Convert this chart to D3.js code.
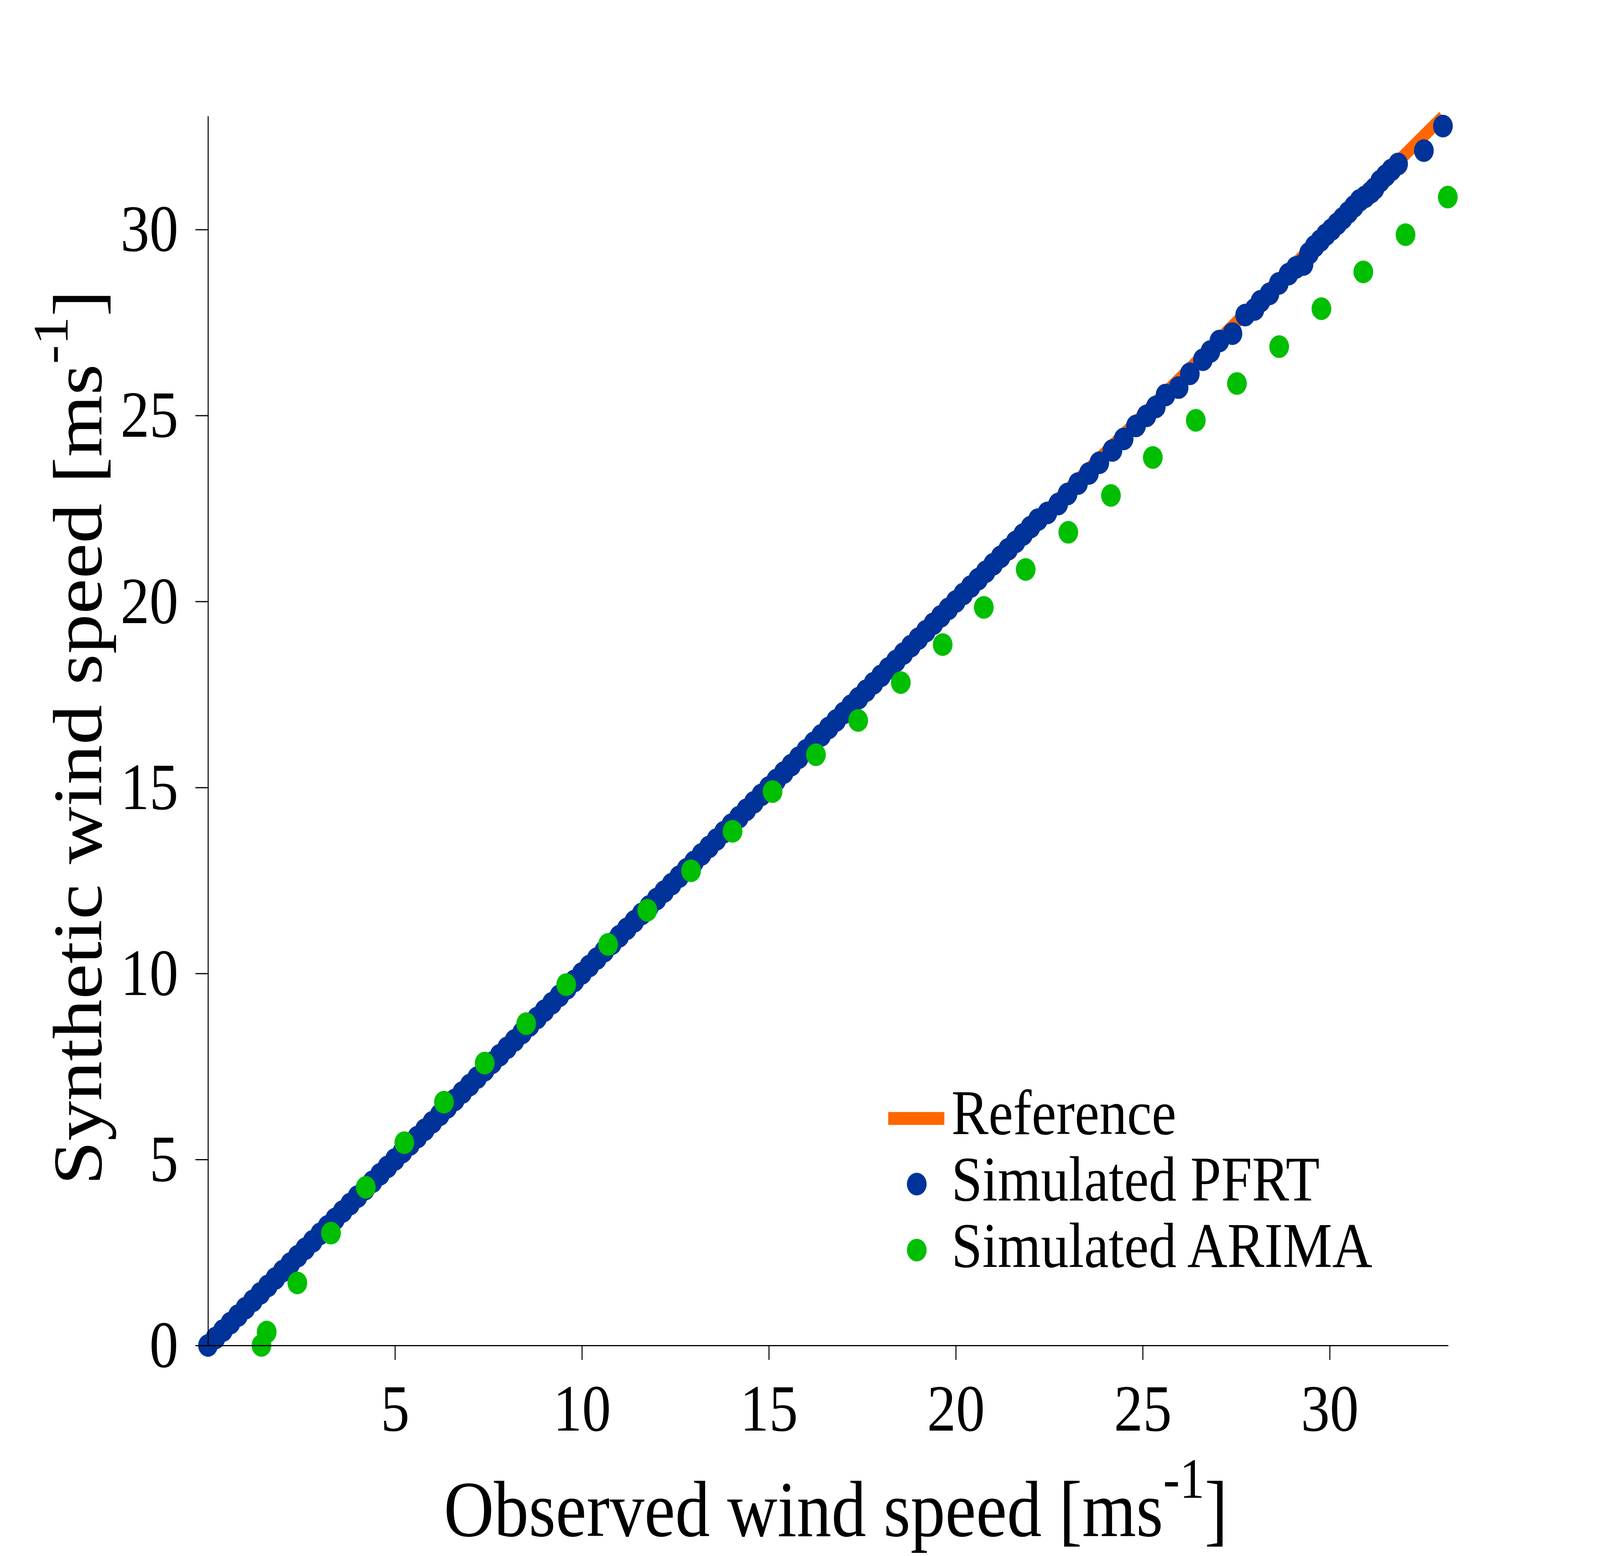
<!DOCTYPE html>
<html>
<head>
<meta charset="utf-8">
<script src="https://cdn.jsdelivr.net/npm/d3@7"></script>
<style>
  html, body { margin: 0; padding: 0; background: #fff; overflow: hidden; }
  svg { display: block; }
  text { font-family: "Liberation Serif", "Times New Roman", serif; fill: #000; }
</style>
</head>
<body>
<div id="chart"></div>
<script>
// Q-Q data: observed quantiles vs synthetic quantiles [m/s]
const pfrtObserved = [
  0.0, 0.2, 0.4, 0.6, 0.8, 1.0, 1.2, 1.4, 1.6, 1.8, 2.0, 2.2, 2.4, 2.6, 2.8,
  3.0, 3.2, 3.4, 3.6, 3.8, 4.0, 4.2, 4.4, 4.6, 4.8, 5.0, 5.2, 5.4, 5.6, 5.8,
  6.0, 6.2, 6.4, 6.6, 6.8, 7.0, 7.2, 7.4, 7.6, 7.8, 8.0, 8.2, 8.4, 8.6, 8.8,
  9.0, 9.2, 9.4, 9.6, 9.8, 10.0, 10.2, 10.4, 10.6, 10.8, 11.0, 11.2, 11.4, 11.6, 11.8,
  12.0, 12.2, 12.4, 12.6, 12.8, 13.0, 13.2, 13.4, 13.6, 13.8, 14.0, 14.2, 14.4, 14.6, 14.8,
  15.0, 15.2, 15.4, 15.6, 15.8, 16.0, 16.2, 16.4, 16.6, 16.8, 17.0, 17.2, 17.4, 17.6, 17.8,
  18.0, 18.2, 18.4, 18.6, 18.8, 19.0, 19.2, 19.4, 19.6, 19.8, 20.0, 20.2, 20.4, 20.6, 20.8,
  21.0, 21.2, 21.4, 21.6, 21.8, 22.0, 22.2, 22.45, 22.74, 22.99, 23.27, 23.56, 23.84,
  24.19, 24.49, 24.82, 25.1, 25.35, 25.61, 25.96, 26.26, 26.61, 26.81, 27.05, 27.4,
  27.74, 27.99, 28.15, 28.39, 28.64, 28.9, 29.1, 29.3, 29.45, 29.6, 29.75, 29.9, 30.05,
  30.2, 30.35, 30.5, 30.65, 30.8, 30.95, 31.1, 31.2, 31.35, 31.5, 31.65, 31.83, 32.52, 33.03
];
const pfrtSynthetic = [
  0.0, 0.2, 0.4, 0.6, 0.8, 1.0, 1.2, 1.4, 1.6, 1.8, 2.0, 2.2, 2.4, 2.6, 2.8,
  3.0, 3.2, 3.4, 3.6, 3.8, 4.0, 4.2, 4.4, 4.6, 4.8, 5.0, 5.2, 5.4, 5.6, 5.8,
  6.0, 6.2, 6.4, 6.6, 6.8, 7.0, 7.2, 7.4, 7.6, 7.8, 8.0, 8.2, 8.4, 8.6, 8.8,
  9.0, 9.2, 9.4, 9.6, 9.8, 10.0, 10.2, 10.4, 10.6, 10.8, 11.0, 11.2, 11.4, 11.6, 11.8,
  12.0, 12.2, 12.4, 12.6, 12.8, 13.0, 13.2, 13.4, 13.6, 13.8, 14.0, 14.2, 14.4, 14.6, 14.8,
  15.0, 15.2, 15.4, 15.6, 15.8, 16.0, 16.2, 16.4, 16.6, 16.8, 17.0, 17.2, 17.4, 17.6, 17.8,
  18.0, 18.2, 18.4, 18.6, 18.8, 19.0, 19.2, 19.4, 19.6, 19.8, 20.0, 20.2, 20.4, 20.6, 20.8,
  21.0, 21.2, 21.4, 21.6, 21.8, 22.0, 22.2, 22.38, 22.62, 22.89, 23.17, 23.44, 23.73,
  24.06, 24.37, 24.72, 24.99, 25.23, 25.55, 25.75, 26.12, 26.5, 26.72, 27.0, 27.2,
  27.7, 27.85, 28.07, 28.27, 28.55, 28.8, 28.98, 29.06, 29.36, 29.55, 29.7, 29.86, 30.0,
  30.15, 30.3, 30.46, 30.62, 30.78, 30.88, 31.0, 31.1, 31.3, 31.45, 31.6, 31.76, 32.12, 32.78
];
const arimaObserved = [
  1.43, 1.57, 2.39, 3.29, 4.22, 5.25, 6.31, 7.4, 8.51, 9.58, 10.7, 11.75, 12.92, 14.03,
  15.1, 16.26, 17.39, 18.53, 19.65, 20.75, 21.87, 23.01, 24.15, 25.27, 26.42, 27.52,
  28.65, 29.78, 30.9, 32.03, 33.16
];
const arimaSynthetic = [
  0.0, 0.36, 1.68, 3.02, 4.25, 5.45, 6.54, 7.59, 8.65, 9.7, 10.78, 11.7, 12.76, 13.82,
  14.89, 15.88, 16.8, 17.82, 18.84, 19.84, 20.86, 21.86, 22.85, 23.87, 24.87, 25.86,
  26.85, 27.87, 28.86, 29.86, 30.87
];
const referenceLine = [0, 33.03];

const xDomain = [0, 33.17];
const yDomain = [0, 33.05];
const xTicks = [5, 10, 15, 20, 25, 30];
const yTicks = [0, 5, 10, 15, 20, 25, 30];

const legendLabels = ["Reference", "Simulated PFRT", "Simulated ARIMA"];
const colors = { reference: "#ff6600", pfrt: "#003399", arima: "#00bf00" };

function createQQPlot(containerId) {
  // drawn in 4700x3983 units, stretched to whatever the window gives
  const width = 4700;
  const height = 3983;
  const margin = { top: 297, bottom: 539, left: 611, right: 446 };
  const radius = 29;

  const svg = d3
    .select(containerId)
    .append("svg")
    .attr("viewBox", `0 0 ${width} ${height}`)
    .attr("preserveAspectRatio", "none")
    .style("width", "100vw")
    .style("height", "100vh");

  const xScale = d3
    .scaleLinear()
    .domain(xDomain)
    .range([margin.left, width - margin.right]);

  const yScale = d3
    .scaleLinear()
    .domain(yDomain)
    .range([height - margin.bottom, margin.top]);

  // Reference line (y = x)

  svg
    .append("line")
    .attr("x1", xScale(referenceLine[0]))
    .attr("y1", yScale(referenceLine[0]))
    .attr("x2", xScale(referenceLine[1]))
    .attr("y2", yScale(referenceLine[1]))
    .attr("stroke", colors.reference)
    .attr("stroke-width", 33);

  // Points

  const pfrtData = pfrtObserved.map((d, i) => ({ x: d, y: pfrtSynthetic[i] }));
  const arimaData = arimaObserved.map((d, i) => ({ x: d, y: arimaSynthetic[i] }));

  svg
    .append("g")
    .selectAll("circle")
    .data(pfrtData)
    .enter()
    .append("circle")
    .attr("cx", (d) => xScale(d.x))
    .attr("cy", (d) => yScale(d.y))
    .attr("r", radius)
    .style("fill", colors.pfrt);

  svg
    .append("g")
    .selectAll("circle")
    .data(arimaData)
    .enter()
    .append("circle")
    .attr("cx", (d) => xScale(d.x))
    .attr("cy", (d) => yScale(d.y))
    .attr("r", radius)
    .style("fill", colors.arima);

  // Axis

  const xAxis = svg
    .append("g")
    .attr("transform", `translate(0, ${height - margin.bottom})`)
    .call(
      d3.axisBottom(xScale).tickValues(xTicks).tickSize(37).tickSizeOuter(0).tickPadding(60)
    );

  const yAxis = svg
    .append("g")
    .attr("transform", `translate(${margin.left}, 0)`)
    .call(
      d3.axisLeft(yScale).tickValues(yTicks).tickSize(37).tickSizeOuter(0).tickPadding(50)
    );

  [xAxis, yAxis].forEach((axis) => {
    axis.selectAll("path, line").attr("stroke", "#000").attr("stroke-width", 3);
    axis
      .selectAll("text")
      .attr("font-family", '"Liberation Serif", serif')
      .attr("font-size", 170)
      .attr("fill", "#000");
  });

  // Axis titles

  const xTitle = svg
    .append("text")
    .attr("x", 2455)
    .attr("y", 3932)
    .attr("text-anchor", "middle")
    .attr("font-size", 204);
  xTitle.append("tspan").text("Observed wind speed [ms");
  xTitle.append("tspan").attr("dy", -98).attr("font-size", 146).text("-1");
  xTitle.append("tspan").attr("dy", 98).text("]");

  const yTitle = svg
    .append("text")
    .attr("transform", "translate(297, 1888) rotate(-90)")
    .attr("text-anchor", "middle")
    .attr("font-size", 204);
  yTitle.append("tspan").text("Synthetic wind speed [ms");
  yTitle.append("tspan").attr("dy", -98).attr("font-size", 146).text("-1");
  yTitle.append("tspan").attr("dy", 98).text("]");

  // Legend

  const legend = svg.append("g").attr("transform", "translate(2609, 2863)");
  const rowGap = 170;

  legend
    .append("line")
    .attr("x1", 0)
    .attr("x2", 165)
    .attr("y1", 0)
    .attr("y2", 0)
    .attr("stroke", colors.reference)
    .attr("stroke-width", 33);

  legend
    .append("circle")
    .attr("cx", 84)
    .attr("cy", rowGap - 2)
    .attr("r", radius)
    .style("fill", colors.pfrt);

  legend
    .append("circle")
    .attr("cx", 84)
    .attr("cy", 2 * rowGap - 3)
    .attr("r", radius)
    .style("fill", colors.arima);

  legend
    .selectAll("text.label")
    .data(legendLabels)
    .enter()
    .append("text")
    .attr("class", "label")
    .attr("x", 186)
    .attr("y", (d, i) => 40 + i * rowGap)
    .attr("font-size", 163)
    .text((d) => d);
}

createQQPlot("#chart");
</script>
</body>
</html>
